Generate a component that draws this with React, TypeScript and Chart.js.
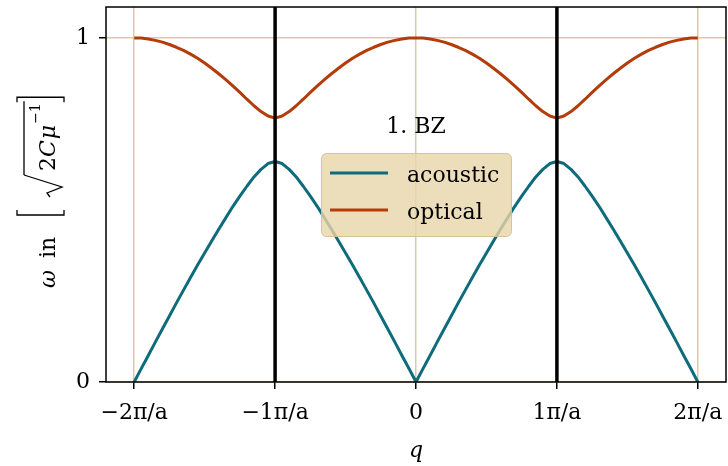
import React, { useEffect, useRef } from 'react';
import { Chart, registerables } from 'chart.js';

Chart.register(...registerables);

// Wave vector q in units of pi/a
const Q_VALUES = [
  -2.0, -1.95, -1.9, -1.85, -1.8, -1.75, -1.7, -1.65, -1.6, -1.55, -1.5, -1.45, -1.4, -1.35, -1.3, -1.25, -1.2, -1.15, -1.1, -1.05,
  -1.0, -0.95, -0.9, -0.85, -0.8, -0.75, -0.7, -0.65, -0.6, -0.55, -0.5, -0.45, -0.4, -0.35, -0.3, -0.25, -0.2, -0.15, -0.1, -0.05,
  0.0, 0.05, 0.1, 0.15, 0.2, 0.25, 0.3, 0.35, 0.4, 0.45, 0.5, 0.55, 0.6, 0.65, 0.7, 0.75, 0.8, 0.85, 0.9, 0.95,
  1.0, 1.05, 1.1, 1.15, 1.2, 1.25, 1.3, 1.35, 1.4, 1.45, 1.5, 1.55, 1.6, 1.65, 1.7, 1.75, 1.8, 1.85, 1.9, 1.95, 2.0,
];

// Acoustic branch, omega in units of sqrt(2C/mu)
const ACOUSTIC = [
  0, 0.039, 0.077, 0.116, 0.154, 0.192, 0.23, 0.267, 0.304, 0.34, 0.375, 0.41, 0.444, 0.477, 0.51, 0.54, 0.569, 0.596, 0.618, 0.635,
  0.641, 0.635, 0.618, 0.596, 0.569, 0.54, 0.51, 0.477, 0.444, 0.41, 0.375, 0.34, 0.304, 0.267, 0.23, 0.192, 0.154, 0.116, 0.077, 0.039,
  0, 0.039, 0.077, 0.116, 0.154, 0.192, 0.23, 0.267, 0.304, 0.34, 0.375, 0.41, 0.444, 0.477, 0.51, 0.54, 0.569, 0.596, 0.618, 0.635,
  0.641, 0.635, 0.618, 0.596, 0.569, 0.54, 0.51, 0.477, 0.444, 0.41, 0.375, 0.34, 0.304, 0.267, 0.23, 0.192, 0.154, 0.116, 0.077, 0.039, 0,
];

// Optical branch
const OPTICAL = [
  1.0, 0.9996, 0.997, 0.993, 0.988, 0.981, 0.973, 0.964, 0.953, 0.941, 0.927, 0.912, 0.896, 0.879, 0.861, 0.842, 0.822, 0.803, 0.786, 0.773,
  0.767, 0.773, 0.786, 0.803, 0.822, 0.842, 0.861, 0.879, 0.896, 0.912, 0.927, 0.941, 0.953, 0.964, 0.973, 0.981, 0.988, 0.993, 0.997, 0.9996,
  1.0, 0.9996, 0.997, 0.993, 0.988, 0.981, 0.973, 0.964, 0.953, 0.941, 0.927, 0.912, 0.896, 0.879, 0.861, 0.842, 0.822, 0.803, 0.786, 0.773,
  0.767, 0.773, 0.786, 0.803, 0.822, 0.842, 0.861, 0.879, 0.896, 0.912, 0.927, 0.941, 0.953, 0.964, 0.973, 0.981, 0.988, 0.993, 0.997, 0.9996, 1.0,
];

const X_TICKS = [-2, -1, 0, 1, 2];
const X_TICK_LABELS = ['\u22122\u03c0/a', '\u22121\u03c0/a', '0', '1\u03c0/a', '2\u03c0/a'];
const Y_TICKS = [0, 1];
const Y_TICK_LABELS = ['0', '1'];
const ZONE_EDGES = [-1, 1];
const SERIES_NAMES = ['acoustic', 'optical'];
const SERIES_COLORS = ['#0e6b7c', '#b23c0a'];
const ANNOTATION = '1. BZ';

const FONT = '"DejaVu Serif", serif';
const GRID = '#dccaa4';

const overlayPlugin = {
  id: 'overlay',
  afterDatasetsDraw(chart: any) {
    const { ctx, chartArea, scales } = chart;
    const { left, right, top, bottom } = chartArea;
    ctx.save();

    // Brillouin-zone boundaries
    ctx.strokeStyle = '#000';
    ctx.lineWidth = 3.5;
    ZONE_EDGES.forEach((q) => {
      const x = scales.x.getPixelForValue(q);
      ctx.beginPath();
      ctx.moveTo(x, top);
      ctx.lineTo(x, bottom);
      ctx.stroke();
    });

    // axes frame
    ctx.lineWidth = 1.5;
    ctx.strokeRect(left, top, right - left, bottom - top);

    // zone label
    ctx.fillStyle = '#000';
    ctx.font = `22px ${FONT}`;
    ctx.textAlign = 'center';
    ctx.textBaseline = 'alphabetic';
    ctx.fillText(ANNOTATION, scales.x.getPixelForValue(0), 133);

    // legend
    const bx = 321.5, by = 153.5, bw = 190, bh = 83;
    ctx.beginPath();
    ctx.roundRect(bx, by, bw, bh, 5);
    ctx.fillStyle = 'rgba(232,214,170,0.8)';
    ctx.fill();
    ctx.strokeStyle = 'rgba(212,192,146,0.9)';
    ctx.lineWidth = 1;
    ctx.stroke();
    const rows = [173, 210];
    ctx.textAlign = 'left';
    SERIES_NAMES.forEach((name, i) => {
      ctx.strokeStyle = SERIES_COLORS[i];
      ctx.lineWidth = 3;
      ctx.beginPath();
      ctx.moveTo(330, rows[i]);
      ctx.lineTo(388, rows[i]);
      ctx.stroke();
      ctx.fillStyle = '#000';
      ctx.fillText(name, 407, rows[i] + 8.5);
    });

    ctx.restore();
  },
  afterDraw(chart: any) {
    const { ctx, scales } = chart;
    ctx.save();
    ctx.fillStyle = '#000';
    ctx.strokeStyle = '#000';

    // x-axis title
    ctx.font = `italic 22px ${FONT}`;
    ctx.textAlign = 'center';
    ctx.textBaseline = 'alphabetic';
    ctx.fillText('q', scales.x.getPixelForValue(0), 457);

    // y-axis title: ω in [√(2Cμ⁻¹)], written bottom-to-top
    ctx.translate(50, 198);
    ctx.rotate(-Math.PI / 2);
    ctx.textAlign = 'left';
    const it = `italic 22px ${FONT}`;
    const up = `22px ${FONT}`;
    const sm = `14px ${FONT}`;
    const base = 5;
    const barV = -26;
    ctx.font = it;
    ctx.fillText('\u03c9', -90, base);
    ctx.font = up;
    ctx.fillText('in', -60, base);

    ctx.lineWidth = 1.3;
    // left bracket
    const lb = -17;
    ctx.beginPath();
    ctx.moveTo(lb + 5, -33);
    ctx.lineTo(lb, -33);
    ctx.lineTo(lb, 14);
    ctx.lineTo(lb + 5, 14);
    ctx.stroke();

    // radical sign
    const r0 = 1;
    ctx.beginPath();
    ctx.moveTo(r0, 0);
    ctx.lineTo(r0 + 4, -3);
    ctx.lineTo(r0 + 10, 12);
    ctx.lineTo(r0 + 22, barV);
    ctx.stroke();

    let u = 27;
    ctx.font = up;
    ctx.fillText('2', u, base);
    u += ctx.measureText('2').width;
    ctx.font = it;
    ctx.fillText('C', u, base);
    u += ctx.measureText('C').width + 1;
    ctx.fillText('\u03bc', u, base);
    u += ctx.measureText('\u03bc').width + 1;
    ctx.font = sm;
    ctx.fillText('\u22121', u, -10);
    u += ctx.measureText('\u22121').width + 2;
    ctx.beginPath();
    ctx.moveTo(r0 + 22, barV);
    ctx.lineTo(u, barV);
    ctx.stroke();
    u += 4;
    // right bracket
    ctx.beginPath();
    ctx.moveTo(u - 5, -33);
    ctx.lineTo(u, -33);
    ctx.lineTo(u, 14);
    ctx.lineTo(u - 5, 14);
    ctx.stroke();

    ctx.restore();
  },
};

export default function App() {
  const canvasRef = useRef<HTMLCanvasElement | null>(null);

  useEffect(() => {
    const canvas = canvasRef.current;
    if (!canvas) return;
    const toPoints = (ys: number[]) => Q_VALUES.map((q, i) => ({ x: q, y: ys[i] }));
    const chart = new Chart(canvas, {
      type: 'line',
      data: {
        datasets: [
          {
            label: SERIES_NAMES[0],
            data: toPoints(ACOUSTIC),
            borderColor: SERIES_COLORS[0],
            backgroundColor: SERIES_COLORS[0],
            borderWidth: 3,
            pointRadius: 0,
            tension: 0,
            borderJoinStyle: 'round',
          },
          {
            label: SERIES_NAMES[1],
            data: toPoints(OPTICAL),
            borderColor: SERIES_COLORS[1],
            backgroundColor: SERIES_COLORS[1],
            borderWidth: 3,
            pointRadius: 0,
            tension: 0,
            borderJoinStyle: 'round',
          },
        ],
      },
      options: {
        responsive: false,
        animation: false,
        devicePixelRatio: 1,
        layout: { padding: { left: 0, top: 7, right: 2, bottom: 0 } },
        plugins: {
          legend: { display: false },
          tooltip: { enabled: false },
        },
        scales: {
          x: {
            type: 'linear',
            min: -2.2,
            max: 2.2,
            afterBuildTicks: (scale: any) => {
              scale.ticks = X_TICKS.map((v) => ({ value: v }));
            },
            afterFit: (scale: any) => {
              scale.height = 84;
              scale.paddingLeft = 0;
              scale.paddingRight = 0;
            },
            ticks: {
              color: '#000',
              font: { family: FONT, size: 22 },
              padding: 11,
              maxRotation: 0,
              autoSkip: false,
              callback: (v: any) => {
                const i = X_TICKS.indexOf(Number(v));
                return i >= 0 ? X_TICK_LABELS[i] : '';
              },
            },
            grid: { color: GRID, lineWidth: 1.5, tickColor: '#000', tickLength: 7, drawTicks: true },
            border: { display: false },
          },
          y: {
            type: 'linear',
            min: 0,
            max: 1.09,
            afterBuildTicks: (scale: any) => {
              scale.ticks = Y_TICKS.map((v) => ({ value: v }));
            },
            afterFit: (scale: any) => {
              scale.width = 106;
              scale.paddingTop = 0;
              scale.paddingBottom = 0;
            },
            ticks: {
              color: '#000',
              font: { family: FONT, size: 22 },
              padding: 9,
              autoSkip: false,
              callback: (v: any) => {
                const i = Y_TICKS.indexOf(Number(v));
                return i >= 0 ? Y_TICK_LABELS[i] : '';
              },
            },
            grid: { color: GRID, lineWidth: 1.5, tickColor: '#000', tickLength: 7, drawTicks: true },
            border: { display: false },
          },
        },
      },
      plugins: [overlayPlugin],
    });
    return () => chart.destroy();
  }, []);

  return (
    <div style={{ position: 'absolute', left: 0, top: 0, width: 728, height: 466, background: '#fff' }}>
      <canvas ref={canvasRef} width={728} height={466} style={{ display: 'block' }} />
    </div>
  );
}
